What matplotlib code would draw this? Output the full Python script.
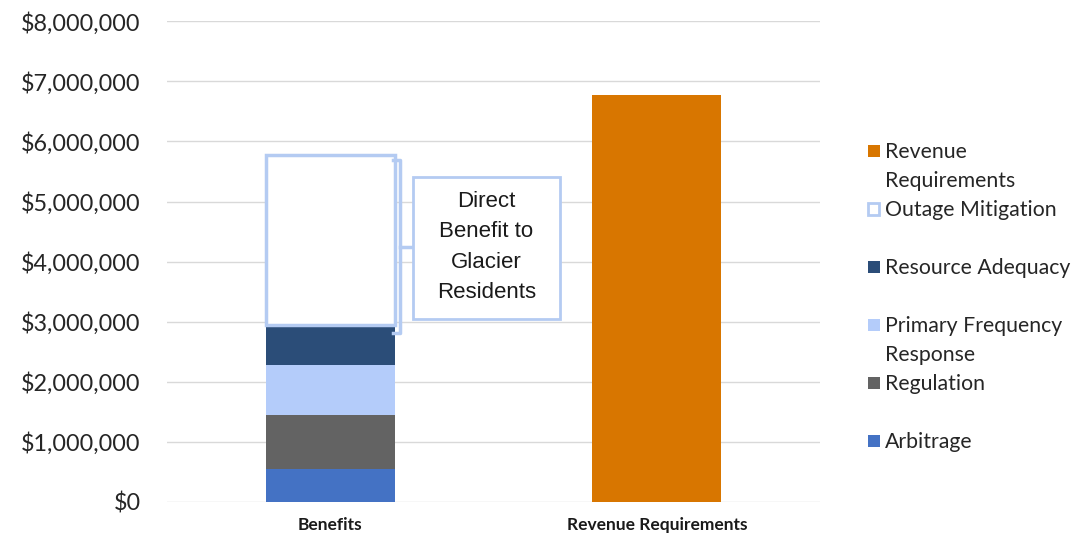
import matplotlib.pyplot as plt
from matplotlib.patches import Rectangle
from matplotlib.ticker import FuncFormatter

plt.rcParams['font.family'] = ['Lato', 'DejaVu Sans']

categories = ['Benefits', 'Revenue Requirements']
# stacked benefit components (bottom to top)
benefit_names = ['Arbitrage', 'Regulation', 'Primary Frequency Response',
                 'Resource Adequacy', 'Outage Mitigation']
benefit_values = [550000, 900000, 820000, 670000, 2830000]
benefit_colors = ['#4472c4', '#636363', '#b4ccfa', '#2b4d78', 'white']
revenue_req = 6770000
revenue_color = '#d87600'
outage_edge = '#b4cbf2'

fig = plt.figure(figsize=(10.84, 5.37), dpi=100)
ax = fig.add_axes([0.154, 0.066, 0.6025, 0.894])

w = 0.395
bottom = 0
for name, val, col in zip(benefit_names, benefit_values, benefit_colors):
    if name == 'Outage Mitigation':
        ax.bar(0, val, w, bottom=bottom, color='white', edgecolor=outage_edge,
               linewidth=2.5, zorder=3)
    else:
        ax.bar(0, val, w, bottom=bottom, color=col, zorder=3)
    bottom += val
ra_top = sum(benefit_values[:4])
total = bottom
ax.bar(1, revenue_req, w, color=revenue_color, zorder=3)

# bracket + callout
bx = w / 2 + 0.016
top_y = total - 80000
bot_y = ra_top - 130000
mid_y = (top_y + bot_y) / 2
ax.plot([w / 2 - 0.005, bx, bx, w / 2 - 0.005], [top_y, top_y, bot_y, bot_y],
        color=outage_edge, lw=2.5, zorder=4, solid_joinstyle='round')
ax.plot([bx, 0.2534], [mid_y, mid_y], color=outage_edge, lw=2.5, zorder=4)
ax.add_patch(Rectangle((0.2534, 3040000), 0.4502, 2370000, facecolor='white',
                       edgecolor=outage_edge, lw=2, zorder=4))
ax.text(0.4785, 4240000, 'Direct\nBenefit to\nGlacier\nResidents', ha='center',
        va='center', fontsize=16, color='#1a1a1a', linespacing=1.58, zorder=5,
        family=['Liberation Sans', 'DejaVu Sans'])

ax.set_xlim(-0.5, 1.5)
ax.set_ylim(0, 8000000)
ax.set_yticks(range(0, 8000001, 1000000))
ax.yaxis.set_major_formatter(FuncFormatter(lambda v, p: '${:,.0f}'.format(v)))
ax.set_xticks([0, 1])
ax.set_xticklabels(categories, fontsize=12.5, fontweight='bold', color='#1a1a1a')
ax.tick_params(axis='y', length=0, pad=19, labelsize=16.8, labelcolor='#262626')
ax.tick_params(axis='x', length=0, pad=11)
ax.grid(axis='y', color='#d9d9d9', lw=1, zorder=0)
for s in ax.spines.values():
    s.set_visible(False)

# legend (each entry takes two text lines, like the original)
legend_items = [('Revenue\nRequirements', revenue_color, None)]
for name, col in zip(benefit_names[::-1], benefit_colors[::-1]):
    if name == 'Primary Frequency Response':
        name = 'Primary Frequency\nResponse'
    legend_items.append((name, col, outage_edge if name == 'Outage Mitigation' else None))
row_h = 29.0 / 537
y0 = 1 - 151.0 / 537
for i, (label, col, edge) in enumerate(legend_items):
    yy = y0 - i * 2 * row_h
    if edge:
        fig.patches.append(Rectangle((868 / 1084, yy - 6 / 537), 11 / 1084, 12 / 537,
                                     transform=fig.transFigure, facecolor='white',
                                     edgecolor=edge, lw=2))
    else:
        fig.patches.append(Rectangle((868 / 1084, yy - 6 / 537), 12 / 1084, 12 / 537,
                                     transform=fig.transFigure, facecolor=col, lw=0))
    fig.text(885 / 1084, yy + 9 / 537, label, va='top', ha='left', fontsize=15.3,
             color='#262626', linespacing=1.55, transform=fig.transFigure)

fig.savefig('out.png', dpi=100)
